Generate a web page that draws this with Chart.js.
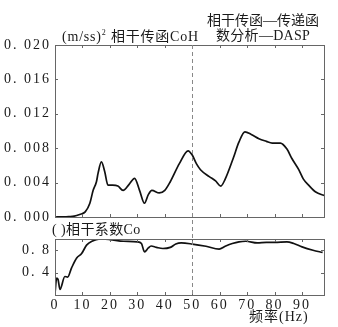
<!DOCTYPE html>
<html>
<head>
<meta charset="utf-8">
<script src="https://cdn.jsdelivr.net/npm/chart.js@4/dist/chart.umd.min.js"></script>
<style>
  body { margin: 0; background: #fff; width: 338px; height: 327px; position: relative; overflow: hidden; }
  canvas { position: absolute; left: 0; top: 0; }
  .t { position: absolute; font-family: "Liberation Serif", "Noto Sans CJK SC", serif; font-size: 14px; color: #1a1a1a; white-space: nowrap; line-height: 1; }
  .t sup { font-size: 8px; vertical-align: 6px; }
</style>
</head>
<body>
<canvas id="coh" width="338" height="327"></canvas>
<canvas id="co" width="338" height="327"></canvas>
<div class="t" style="left:62px;top:29px;letter-spacing:0.8px">(m/ss)<sup>2</sup> 相干传函CoH</div>
<div class="t" style="left:207px;top:14px">相干传函—传递函</div>
<div class="t" style="left:216px;top:29px;letter-spacing:0.3px">数分析—DASP</div>
<div class="t" style="left:52px;top:223px;letter-spacing:0.4px">( )相干系数Co</div>
<div class="t" style="left:249px;top:310px;letter-spacing:1px">频率(Hz)</div>
<script>
// coherent transfer function CoH, (m/ss)^2
const cohFreq = [0, 3, 5, 7, 9, 11, 12.7, 13.9, 15.1, 15.7, 16.9, 18.1, 19.3, 21, 22.9, 24.8, 27, 29, 30.8, 32.6, 34, 35.3, 38, 40, 42, 45.3, 48.5, 50, 51.5, 53, 56.2, 58.5, 60.4, 62, 64.9, 67, 69.2, 71.5, 74.3, 77, 79.1, 82.1, 84.5, 86.3, 88.8, 90.5, 92.4, 95, 98]
const cohVals = [0, 0.00002, 0.00005, 0.0001, 0.0003, 0.0006, 0.0016, 0.0031, 0.0041, 0.0051, 0.0064, 0.0053, 0.0037, 0.0037, 0.0036, 0.0031, 0.0038, 0.0045, 0.0031, 0.0016, 0.0026, 0.0031, 0.0028, 0.0031, 0.0041, 0.0062, 0.0077, 0.0072, 0.0062, 0.0055, 0.0047, 0.0042, 0.0036, 0.0044, 0.0068, 0.0087, 0.0099, 0.0096, 0.0091, 0.0088, 0.0086, 0.0086, 0.0079, 0.0068, 0.0055, 0.0044, 0.0037, 0.0029, 0.0025]

// coherence coefficient Co
const coFreq = [0, 0.6, 1.1, 1.8, 3.6, 4.6, 6, 7.9, 9.7, 11.5, 13.9, 15, 17, 20, 25, 30, 31.5, 32.6, 34, 35, 37, 39.3, 42, 44, 46, 50, 55, 59.8, 62, 64.6, 67, 69.5, 73.7, 77, 80, 84.5, 87, 90, 94, 97.5]
const coVals = [0.03, 0.30, 0.28, 0.10, 0.33, 0.32, 0.48, 0.66, 0.74, 0.89, 0.97, 0.99, 1.0, 0.99, 0.96, 0.95, 0.92, 0.77, 0.84, 0.875, 0.85, 0.83, 0.85, 0.91, 0.93, 0.91, 0.87, 0.82, 0.87, 0.92, 0.95, 0.96, 0.93, 0.94, 0.94, 0.95, 0.92, 0.86, 0.80, 0.76]

const freqTicks = [0, 10, 20, 30, 40, 50, 60, 70, 80, 90]
const cohTicks = [0, 0.002, 0.004, 0.006, 0.008, 0.010, 0.012, 0.014, 0.016, 0.018, 0.020]
const coTicks = [0.4, 0.8]
const markFreq = 50

const tickFont = { family: '"Liberation Serif", serif', size: 14 }

// frame + inward tick marks, done by hand since chart.js only draws ticks outward
const frame = {
  id: 'frame',
  beforeDraw(chart) { chart.ctx.letterSpacing = '2px' },
  afterDraw(chart) {
    const { ctx, chartArea: a, scales } = chart
    ctx.letterSpacing = '0px'
    ctx.save()
    ctx.strokeStyle = '#666'
    ctx.lineWidth = 1
    ctx.strokeRect(Math.round(a.left) + 0.5, Math.round(a.top) + 0.5, Math.round(a.right - a.left), Math.round(a.bottom - a.top))
    ctx.beginPath()
    scales.x.ticks.forEach(t => {
      const x = Math.round(scales.x.getPixelForValue(t.value)) + 0.5
      ctx.moveTo(x, a.top); ctx.lineTo(x, a.top + 3)
      ctx.moveTo(x, a.bottom); ctx.lineTo(x, a.bottom - 3)
    })
    scales.y.ticks.forEach(t => {
      const y = Math.round(scales.y.getPixelForValue(t.value)) + 0.5
      ctx.moveTo(a.left, y); ctx.lineTo(a.left + 3, y)
      ctx.moveTo(a.right, y); ctx.lineTo(a.right - 3, y)
    })
    ctx.stroke()
    ctx.restore()
  }
}

const cohChart = new Chart('coh', {
  type: 'line',
  data: {
    datasets: [{
      data: cohFreq.map((f, i) => ({ x: f, y: cohVals[i] })),
      borderColor: '#111',
      borderWidth: 1.7,
      pointRadius: 0,
      fill: false,
      cubicInterpolationMode: 'monotone'
    }]
  },
  options: {
    responsive: false,
    animation: false,
    plugins: { legend: { display: false }, tooltip: { enabled: false } },
    layout: { padding: { top: 45, right: 14, bottom: 110, left: 0 } },
    scales: {
      x: {
        type: 'linear', min: 0, max: 98,
        afterBuildTicks: s => { s.ticks = freqTicks.map(v => ({ value: v })) },
        ticks: { display: false },
        grid: { display: false, drawTicks: false }, border: { display: false },
        afterFit: s => { s.height = 0 }
      },
      y: {
        min: 0, max: 0.020,
        afterBuildTicks: s => { s.ticks = cohTicks.map(v => ({ value: v })) },
        ticks: {
          color: '#1a1a1a', font: tickFont, padding: 4,
          callback: v => (Math.round(v * 1000) % 4 === 0 ? v.toFixed(3).replace('.', '. ') : '')
        },
        grid: { display: false, drawTicks: false }, border: { display: false },
        afterFit: s => { s.width = 55 }
      }
    }
  },
  plugins: [frame]
})

// dashed marker at 50 Hz running through both panels
const marker = {
  id: 'marker',
  afterDraw(chart) {
    const { ctx, chartArea: a, scales } = chart
    const x = Math.round(scales.x.getPixelForValue(markFreq)) + 0.5
    ctx.save()
    ctx.strokeStyle = '#888'
    ctx.lineWidth = 1
    ctx.setLineDash([4, 3])
    ctx.beginPath()
    ctx.moveTo(x, cohChart.chartArea.top)
    ctx.lineTo(x, a.bottom)
    ctx.stroke()
    ctx.restore()
  }
}

new Chart('co', {
  type: 'line',
  data: {
    datasets: [{
      data: coFreq.map((f, i) => ({ x: f, y: coVals[i] })),
      borderColor: '#111',
      borderWidth: 1.7,
      pointRadius: 0,
      fill: false,
      cubicInterpolationMode: 'monotone'
    }]
  },
  options: {
    responsive: false,
    animation: false,
    plugins: { legend: { display: false }, tooltip: { enabled: false } },
    layout: { padding: { top: 239, right: 14, bottom: 0, left: 0 } },
    scales: {
      x: {
        type: 'linear', min: 0, max: 98,
        afterBuildTicks: s => { s.ticks = freqTicks.map(v => ({ value: v })) },
        ticks: { color: '#1a1a1a', font: tickFont, padding: 2, maxRotation: 0, autoSkip: false },
        grid: { display: false, drawTicks: false }, border: { display: false },
        afterFit: s => { s.height = 32 }
      },
      y: {
        min: 0, max: 1,
        afterBuildTicks: s => { s.ticks = coTicks.map(v => ({ value: v })) },
        ticks: {
          color: '#1a1a1a', font: tickFont, padding: 4,
          callback: v => v.toFixed(1).replace('.', '. ')
        },
        grid: { display: false, drawTicks: false }, border: { display: false },
        afterFit: s => { s.width = 55 }
      }
    }
  },
  plugins: [frame, marker]
})
</script>
</body>
</html>
